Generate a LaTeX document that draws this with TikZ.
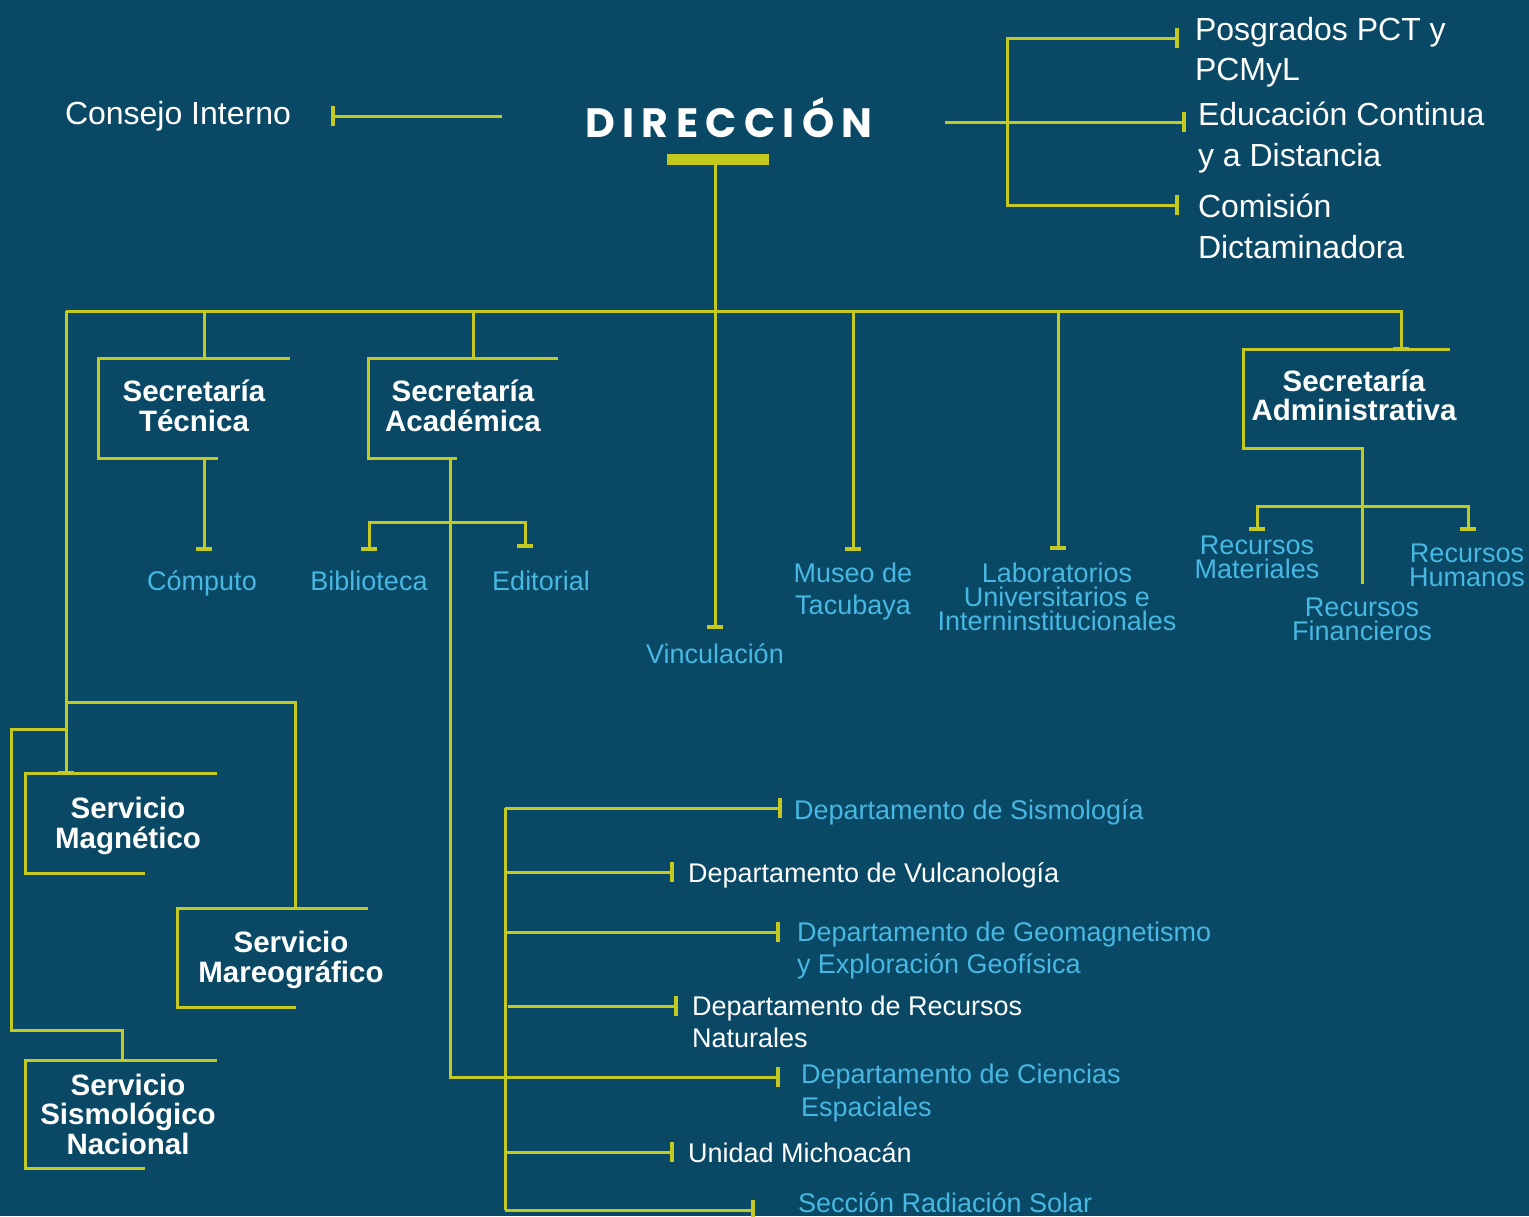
\documentclass[tikz,border=0pt]{standalone}
\usepackage{fontspec}
\setmainfont{Liberation Sans}
\newfontfamily\dirfont[LetterSpace=18]{Poppins}
\definecolor{bg}{RGB}{10,73,101}
\definecolor{lime}{RGB}{195,201,30}
\definecolor{sky}{RGB}{72,183,226}
\newcommand\vtk[1]{\draw[tick] ([yshift=-10pt]#1) -- ([yshift=10pt]#1);}
\newcommand\htk[1]{\draw[tick] ([xshift=-8pt]#1) -- ([xshift=8pt]#1);}
\begin{document}
\begin{tikzpicture}[x=1pt,y=-1pt,
  conn/.style={draw=lime,line width=3pt},
  tick/.style={draw=lime,line width=4.5pt},
  lbl/.style={inner sep=0pt,outer sep=0pt},
  wreg/.style={lbl,text=white,font=\fontsize{32}{38}\selectfont,anchor=base west},
  wbold/.style={lbl,text=white,font=\fontsize{29.5}{30}\selectfont\bfseries,anchor=base},
  bsub/.style={lbl,text=sky,font=\fontsize{27}{30}\selectfont,anchor=base},
  dept/.style={lbl,font=\fontsize{27}{30}\selectfont,anchor=base west},
  dblue/.style={dept,text=sky},
  dwhite/.style={dept,text=white}]
\fill[bg] (0,0) rectangle (1529,1216);
\useasboundingbox (0,0) rectangle (1529,1216);

% ---------- top ----------
\node[lbl,text=white,anchor=base,font=\dirfont\fontsize{41}{41}\selectfont\bfseries] (dir) at (729,137) {DIRECCIÓN};
\node[lbl,fill=lime,minimum width=102pt,minimum height=11pt] (bar) at (718,159.5) {};
\node[wreg] (ci) at (65,124) {Consejo Interno};
\coordinate (ciA) at (333,116); \coordinate (ciB) at (502,116);
\draw[conn] (ciB) -- (ciA); \vtk{ciA}

\node[wreg] (pos1) at (1195,40) {Posgrados PCT y};
\node[wreg] (pos2) at (1195,80) {PCMyL};
\node[wreg] (edu1) at (1198,125) {Educación Continua};
\node[wreg] (edu2) at (1198,166) {y a Distancia};
\node[wreg] (com1) at (1198,217) {Comisión};
\node[wreg] (com2) at (1198,258) {Dictaminadora};
\coordinate (rA) at (945,122); \coordinate (rB) at (1184,122);
\coordinate (rT) at (1177,38); \coordinate (rTL) at (1007,38);
\coordinate (rBL) at (1007,205); \coordinate (rBt) at (1177,205);
\draw[conn] (rA) -- (rB); \vtk{rB}
\draw[conn] (rT) -- (rTL) -- (rBL) -- (rBt); \vtk{rT} \vtk{rBt}

% ---------- main trunk and bus ----------
\coordinate (vtop) at (715,165); \coordinate (vin) at (715,627);
\draw[conn] (vtop) -- (vin); \htk{vin}
\node[bsub] (vinc) at (715,663) {Vinculación};
\coordinate (busL) at (66,311); \coordinate (busR) at (1401,311); \coordinate (admT) at (1401,349);
\draw[conn] (busL) -- (busR) -- (admT); \htk{admT}

% Secretaría Técnica
\draw[conn] (204,311) -- (204,358);
\draw[conn] (290,358) -- (98,358) -- (98,458) -- (218,458);
\node[wbold] (st1) at (194,401.5) {Secretaría};
\node[wbold] (st2) at (194,431.5) {Técnica};
\coordinate (compT) at (204,549);
\draw[conn] (204,460) -- (compT); \htk{compT}
\node[bsub] (comp) at (202,590) {Cómputo};

% Secretaría Académica
\draw[conn] (473,311) -- (473,358);
\draw[conn] (558,358) -- (368,358) -- (368,458) -- (457,458);
\node[wbold] (sa1) at (463,401.5) {Secretaría};
\node[wbold] (sa2) at (463,431.5) {Académica};
\coordinate (bibT) at (369,549); \coordinate (ediT) at (525,546);
\draw[conn] (bibT) -- (369,522) -- (525,522) -- (ediT); \htk{bibT} \htk{ediT}
\node[bsub] (bib) at (369,590) {Biblioteca};
\node[bsub] (edi) at (541,590) {Editorial};
\coordinate (ciencT) at (778,1077);
\draw[conn] (450,458) -- (450,1077) -- (ciencT); \vtk{ciencT}

% Museo, Laboratorios
\coordinate (musT) at (853,549); \coordinate (labT) at (1058,548);
\draw[conn] (853,311) -- (musT); \htk{musT}
\draw[conn] (1058,311) -- (labT); \htk{labT}
\node[bsub] (mus1) at (853,582) {Museo de};
\node[bsub] (mus2) at (853,614) {Tacubaya};
\begin{scope}[bsub/.append style={font=\fontsize{27}{24}\selectfont}]
\node[bsub] (lab1) at (1057,582) {Laboratorios};
\node[bsub] (lab2) at (1057,606) {Universitarios e};
\node[bsub] (lab3) at (1057,630) {Interninstitucionales};
\end{scope}

% Secretaría Administrativa
\draw[conn] (1450,349) -- (1243,349) -- (1243,448) -- (1362,448) -- (1362,584);
\node[wbold] (sad1) at (1354,391.5) {Secretaría};
\node[wbold] (sad2) at (1354,420.5) {Administrativa};
\coordinate (rmT) at (1257,529); \coordinate (rhT) at (1468,529);
\draw[conn] (rmT) -- (1257,506) -- (1468,506) -- (rhT); \htk{rmT} \htk{rhT}
\node[bsub] (rm1) at (1257,554) {Recursos};
\node[bsub] (rm2) at (1257,578) {Materiales};
\node[bsub] (rh1) at (1467,562) {Recursos};
\node[bsub] (rh2) at (1467,586) {Humanos};
\node[bsub] (rf1) at (1362,616) {Recursos};
\node[bsub] (rf2) at (1362,640) {Financieros};

% ---------- Servicios ----------
\coordinate (magT) at (66,773);
\draw[conn] (busL) -- (magT); \htk{magT}
\draw[conn] (66,702) -- (295,702) -- (295,908);
\draw[conn] (66,729) -- (11,729) -- (11,1030) -- (122,1030) -- (122,1060);
\draw[conn] (217,773) -- (25,773) -- (25,873) -- (145,873);
\draw[conn] (368,908) -- (177,908) -- (177,1007) -- (296,1007);
\draw[conn] (217,1060) -- (25,1060) -- (25,1168) -- (145,1168);
\node[wbold] (sm1) at (128,818.5) {Servicio};
\node[wbold] (sm2) at (128,848.5) {Magnético};
\node[wbold] (smr1) at (291,952.5) {Servicio};
\node[wbold] (smr2) at (291,982.5) {Mareográfico};
\node[wbold] (ss1) at (128,1095.5) {Servicio};
\node[wbold] (ss2) at (128,1124.5) {Sismológico};
\node[wbold] (ss3) at (128,1154.5) {Nacional};

% ---------- Departamentos ----------
\coordinate (dTop) at (505,808); \coordinate (dBot) at (505,1210);
\draw[conn] (dTop) -- (dBot);
\coordinate (d1) at (780,808);  \draw[conn] (dTop) -- (d1); \vtk{d1}
\coordinate (d2) at (672,872);  \draw[conn] (505,872) -- (d2); \vtk{d2}
\coordinate (d3) at (778,932);  \draw[conn] (505,932) -- (d3); \vtk{d3}
\coordinate (d4) at (676,1006); \draw[conn] (508,1006) -- (d4); \vtk{d4}
\coordinate (d6) at (672,1152); \draw[conn] (505,1152) -- (d6); \vtk{d6}
\coordinate (d7) at (753,1210); \draw[conn] (dBot) -- (d7); \vtk{d7}
\node[dblue] (t1) at (794,819) {Departamento de Sismología};
\node[dwhite] (t2) at (688,882) {Departamento de Vulcanología};
\node[dblue] (t3a) at (797,941) {Departamento de Geomagnetismo};
\node[dblue] (t3b) at (797,973) {y Exploración Geofísica};
\node[dwhite] (t4a) at (692,1015) {Departamento de Recursos};
\node[dwhite] (t4b) at (692,1047) {Naturales};
\node[dblue] (t5a) at (801,1083) {Departamento de Ciencias};
\node[dblue] (t5b) at (801,1116) {Espaciales};
\node[dwhite] (t6) at (688,1162) {Unidad Michoacán};
\node[dblue] (t7) at (798,1212) {Sección Radiación Solar};
\end{tikzpicture}
\end{document}
